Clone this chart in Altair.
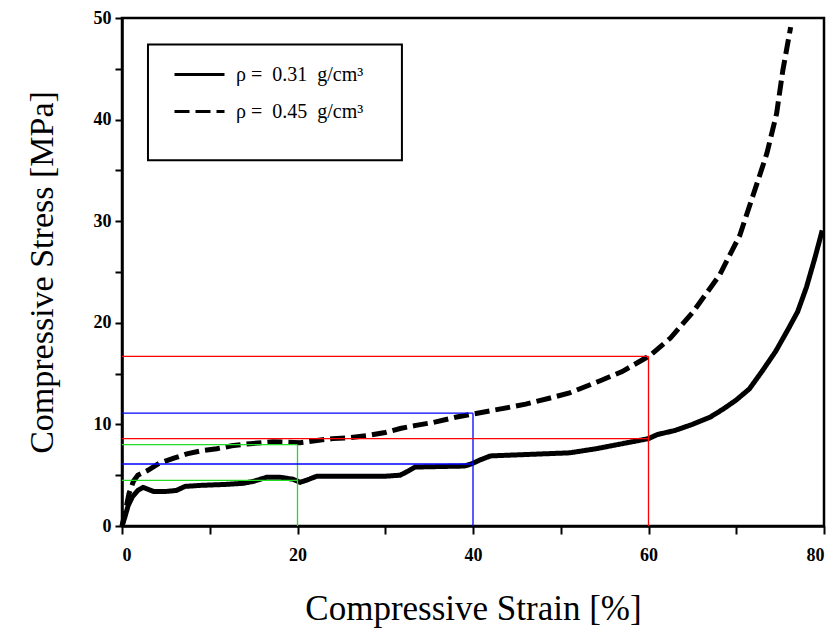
import altair as alt
import pandas as pd

# --- data ---
strain_031 = [0, 0.3, 0.7, 1.2, 1.8, 2.4, 3.0, 3.6, 5.0, 6.2, 7.2, 9.0, 12.0, 13.8, 15.0, 16.5,
              18.0, 19.5, 20.3, 21.0, 22.2, 25.0, 30.0, 31.7, 32.6, 33.4, 36.0, 39.0, 39.8, 40.8,
              42.0, 45.0, 48.0, 51.0, 54.0, 57.0, 60.0, 61.0, 63.0, 65.0, 67.0, 68.5, 70.0, 71.5,
              73.0, 74.5, 76.0, 77.0, 78.0, 79.0, 79.8]
stress_031 = [0, 0.8, 2.0, 2.9, 3.5, 3.8, 3.6, 3.4, 3.4, 3.5, 3.9, 4.0, 4.1, 4.2, 4.4, 4.8,
              4.8, 4.6, 4.3, 4.5, 4.9, 4.9, 4.9, 5.0, 5.4, 5.8, 5.85, 5.9, 6.1, 6.5,
              6.9, 7.0, 7.1, 7.2, 7.6, 8.1, 8.6, 9.0, 9.4, 10.0, 10.7, 11.5, 12.4, 13.5,
              15.3, 17.2, 19.5, 21.1, 23.5, 26.5, 29.1]

strain_045 = [0, 0.4, 0.8, 1.3, 1.8, 3.0, 4.3, 6.0, 7.4, 9.0, 10.8, 12.5, 14.6, 17.2, 20.3,
              22.0, 24.0, 26.0, 27.9, 30.0, 31.7, 33.5, 35.5, 38.0, 40.5, 43.0, 46.0, 48.8,
              51.0, 54.5, 57.0, 60.2, 62.5, 65.1, 68.1, 70.4, 71.9, 73.5, 74.6, 75.3, 76.2]
stress_045 = [0, 1.5, 3.2, 4.4, 5.0, 5.5, 6.2, 6.7, 7.1, 7.4, 7.6, 7.9, 8.1, 8.3, 8.2,
              8.4, 8.6, 8.7, 8.9, 9.2, 9.6, 9.9, 10.2, 10.7, 11.1, 11.5, 12.0, 12.6,
              13.1, 14.3, 15.2, 16.8, 18.5, 21.1, 24.7, 28.6, 32.5, 36.7, 40.6, 44.8, 49.1]

NB = "\u00a0"
series_names = ["\u03c1 =" + NB * 2 + "0.31" + NB * 2 + "g/cm\u00b3",
                "\u03c1 =" + NB * 2 + "0.45" + NB * 2 + "g/cm\u00b3"]

# reference (read-off) lines: strain, stress of the 0.45 curve, stress of the 0.31 curve
ref_strain = [20, 40, 60]
ref_high = [8.0, 11.1, 16.7]
ref_low = [4.5, 6.1, 8.6]
ref_colors = ["#22dd22", "#0000ff", "#ff0000"]

# legend frame (data coordinates)
box_x = [2.96, 31.9]
box_y = [36.0, 47.4]

# --- tables ---
rows = []
for name, xs, ys in [(series_names[0], strain_031, stress_031), (series_names[1], strain_045, stress_045)]:
    for i, (a, b) in enumerate(zip(xs, ys)):
        rows.append({"series": name, "strain": a, "stress": b, "i": i})
curves = pd.DataFrame(rows)

seg = []
for s, hi, lo, c in zip(ref_strain, ref_high, ref_low, ref_colors):
    seg.append({"x": s, "x2": s, "y": 0, "y2": hi, "c": c})
    seg.append({"x": 0, "x2": s, "y": hi, "y2": hi, "c": c})
    seg.append({"x": 0, "x2": s, "y": lo, "y2": lo, "c": c})
segs = pd.DataFrame(seg)

box = pd.DataFrame([{"x": box_x[0], "x2": box_x[1], "y": box_y[0], "y2": box_y[1]}])

FONT = "Liberation Serif"
xscale = alt.Scale(domain=[0, 80], nice=False, zero=True)
yscale = alt.Scale(domain=[0, 50], nice=False, zero=True)

lines = alt.Chart(curves).mark_line(color="black", strokeWidth=5).encode(
    x=alt.X("strain:Q", scale=xscale,
            axis=alt.Axis(title="Compressive Strain [%]", values=list(range(0, 81, 10)),
                          labelExpr="datum.value % 20 == 0 ? datum.label : ''",
                          tickSize=8, labelPadding=12, titlePadding=27, titleFontSize=35)),
    y=alt.Y("stress:Q", scale=yscale,
            axis=alt.Axis(title="Compressive Stress [MPa]", values=list(range(0, 51, 5)),
                          labelExpr="datum.value % 10 == 0 ? datum.label : ''",
                          tickSize=7, labelPadding=4, titlePadding=34, titleFontSize=34)),
    strokeDash=alt.StrokeDash("series:N",
                              scale=alt.Scale(domain=series_names, range=[[1, 0], [15, 6]]),
                              legend=alt.Legend(title=None, orient="none", legendX=51, legendY=30,
                                                symbolType="stroke", symbolSize=2500,
                                                symbolStrokeWidth=3, symbolStrokeColor="black",
                                                rowPadding=-23, labelOffset=10, padding=0,
                                                labelFont=FONT, labelFontSize=20,
                                                labelColor="black", labelLimit=400)),
    order="i:Q",
)

rules = alt.Chart(segs).mark_rule(strokeWidth=1.3).encode(
    x="x:Q", x2="x2:Q", y="y:Q", y2="y2:Q",
    color=alt.Color("c:N", scale=None),
)

frame = alt.Chart(box).mark_rect(fill="white", stroke="black", strokeWidth=2).encode(
    x="x:Q", x2="x2:Q", y="y:Q", y2="y2:Q",
)

chart = alt.layer(lines, rules, frame).properties(
    width=702, height=508,
    autosize=alt.AutoSizeParams(type="none"),
    padding={"left": 114, "top": 10, "right": 6, "bottom": 105},
).configure_view(
    stroke="black", strokeWidth=2.5
).configure_axis(
    grid=False, domainColor="black", domainWidth=2.5, tickColor="black", tickWidth=2,
    labelFont=FONT, labelFontWeight="bold", labelFontSize=18, labelColor="black",
    titleFont=FONT, titleFontWeight="normal", titleColor="black",
)

chart.save("out.html", embed_options={"renderer": "svg", "actions": False})
